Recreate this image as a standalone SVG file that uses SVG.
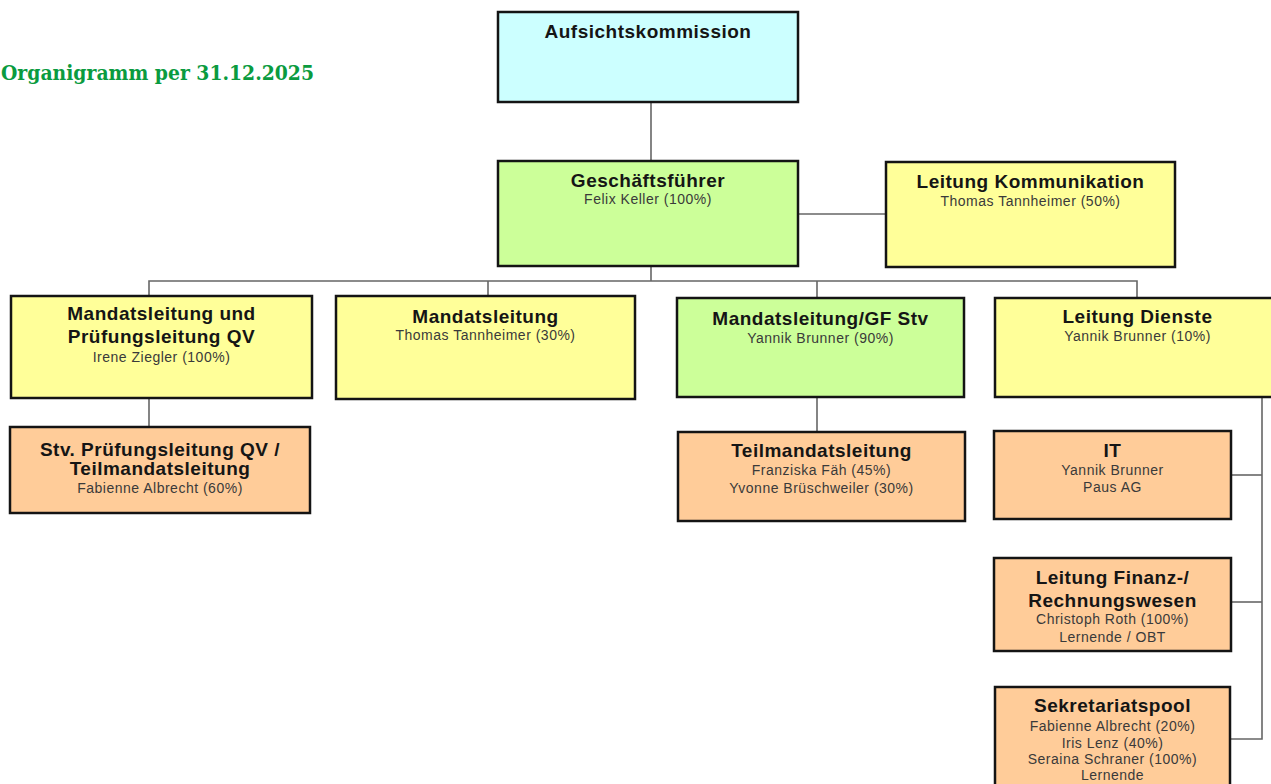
<svg xmlns="http://www.w3.org/2000/svg" width="1271" height="784" viewBox="0 0 1271 784">
<style>
.box{stroke:#141414;stroke-width:2.5}
.cyan{fill:#CCFFFF}
.green{fill:#CCFF99}
.yellow{fill:#FFFF99}
.orange{fill:#FFCC99}
.t{font-family:"Liberation Sans",Arial,sans-serif;font-weight:bold;font-size:19px;letter-spacing:0.5px;fill:#151515;text-anchor:middle}
.s{font-family:"Liberation Sans",Arial,sans-serif;font-size:14px;letter-spacing:0.5px;fill:#3a3a3a;text-anchor:middle}
.conn{stroke:#666;stroke-width:1.6;fill:none}
</style>
<rect width="1271" height="784" fill="#ffffff"/>
<text x="1" y="80" font-family="'DejaVu Serif','Liberation Serif',serif" font-weight="bold" font-size="20" fill="#0A9B3F" textLength="313" lengthAdjust="spacingAndGlyphs">Organigramm per 31.12.2025</text>
<g id="connectors">
<line class="conn" x1="651" y1="101" x2="651" y2="161"/>
<line class="conn" x1="798" y1="214" x2="886" y2="214"/>
<line class="conn" x1="651" y1="266" x2="651" y2="281"/>
<polyline class="conn" points="149,296 149,281 1137,281 1137,298"/>
<line class="conn" x1="488" y1="281" x2="488" y2="296"/>
<line class="conn" x1="817" y1="281" x2="817" y2="298"/>
<line class="conn" x1="149" y1="398" x2="149" y2="427"/>
<line class="conn" x1="817" y1="397" x2="817" y2="432"/>
<polyline class="conn" points="1262,397 1262,739 1230,739"/>
<line class="conn" x1="1231" y1="475" x2="1262" y2="475"/>
<line class="conn" x1="1231" y1="602" x2="1262" y2="602"/>
</g>
<g id="aufsichtskommission">
<rect class="box cyan" x="498" y="12" width="300" height="90"/>
<text class="t" x="648" y="38">Aufsichtskommission</text>
</g>
<g id="geschaeftsfuehrer">
<rect class="box green" x="498" y="161" width="300" height="105"/>
<text class="t" x="648" y="187">Geschäftsführer</text>
<text class="s" x="648" y="204">Felix Keller (100%)</text>
</g>
<g id="leitung-kommunikation">
<rect class="box yellow" x="886" y="162" width="289" height="105"/>
<text class="t" x="1030.5" y="188">Leitung Kommunikation</text>
<text class="s" x="1030.5" y="206">Thomas Tannheimer (50%)</text>
</g>
<g id="mandatsleitung-pruefungsleitung">
<rect class="box yellow" x="11" y="296" width="301" height="102"/>
<text class="t" x="161.5" y="320">Mandatsleitung und</text>
<text class="t" x="161.5" y="343">Prüfungsleitung QV</text>
<text class="s" x="161.5" y="362">Irene Ziegler (100%)</text>
</g>
<g id="mandatsleitung">
<rect class="box yellow" x="336" y="296" width="299" height="103"/>
<text class="t" x="485.5" y="323">Mandatsleitung</text>
<text class="s" x="485.5" y="340">Thomas Tannheimer (30%)</text>
</g>
<g id="mandatsleitung-gf-stv">
<rect class="box green" x="677" y="298" width="287" height="99"/>
<text class="t" x="820.5" y="325">Mandatsleitung/GF Stv</text>
<text class="s" x="820.5" y="343">Yannik Brunner (90%)</text>
</g>
<g id="leitung-dienste">
<rect class="box yellow" x="995" y="298" width="285" height="99"/>
<text class="t" x="1137.5" y="323">Leitung Dienste</text>
<text class="s" x="1137.5" y="341">Yannik Brunner (10%)</text>
</g>
<g id="stv-pruefungsleitung">
<rect class="box orange" x="10" y="427" width="300" height="86"/>
<text class="t" x="160" y="456">Stv. Prüfungsleitung QV /</text>
<text class="t" x="160" y="475">Teilmandatsleitung</text>
<text class="s" x="160" y="493">Fabienne Albrecht (60%)</text>
</g>
<g id="teilmandatsleitung">
<rect class="box orange" x="678" y="432" width="287" height="89"/>
<text class="t" x="821.5" y="457">Teilmandatsleitung</text>
<text class="s" x="821.5" y="475">Franziska Fäh (45%)</text>
<text class="s" x="821.5" y="493">Yvonne Brüschweiler (30%)</text>
</g>
<g id="it">
<rect class="box orange" x="994" y="431" width="237" height="88"/>
<text class="t" x="1112.5" y="457">IT</text>
<text class="s" x="1112.5" y="475">Yannik Brunner</text>
<text class="s" x="1112.5" y="492">Paus AG</text>
</g>
<g id="leitung-finanz">
<rect class="box orange" x="994" y="558" width="237" height="93"/>
<text class="t" x="1112.5" y="584">Leitung Finanz-/</text>
<text class="t" x="1112.5" y="607">Rechnungswesen</text>
<text class="s" x="1112.5" y="624">Christoph Roth (100%)</text>
<text class="s" x="1112.5" y="642">Lernende / OBT</text>
</g>
<g id="sekretariatspool">
<rect class="box orange" x="995" y="687" width="235" height="110"/>
<text class="t" x="1112.5" y="712">Sekretariatspool</text>
<text class="s" x="1112.5" y="731">Fabienne Albrecht (20%)</text>
<text class="s" x="1112.5" y="748">Iris Lenz (40%)</text>
<text class="s" x="1112.5" y="764">Seraina Schraner (100%)</text>
<text class="s" x="1112.5" y="780">Lernende</text>
</g>
</svg>
